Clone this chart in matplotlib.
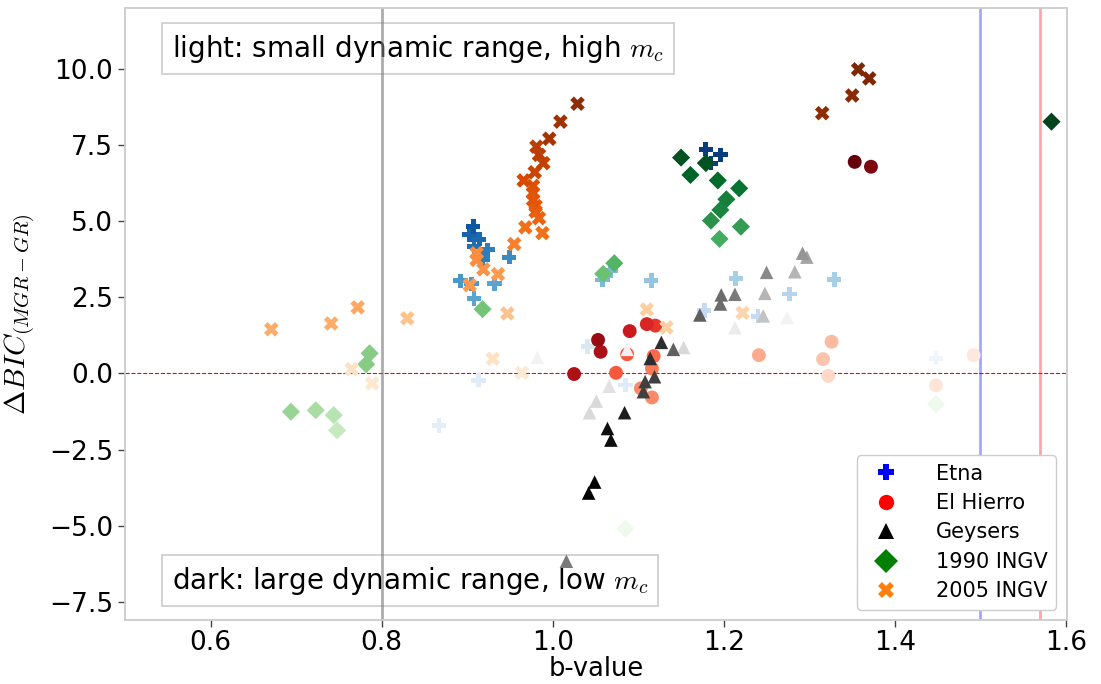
import matplotlib
matplotlib.use("Agg")
import matplotlib.pyplot as plt
from matplotlib.lines import Line2D
import numpy as np

plt.rcParams["mathtext.fontset"] = "cm"
plt.rcParams["font.family"] = ["DejaVu Sans"]

# b-value, Delta BIC and dynamic-range shade (0 = small range, 1 = large range)
etna_b = [0.907, 0.903, 0.914, 0.908, 0.924, 0.918, 0.949, 0.892, 0.905, 0.932, 0.908,
          1.179, 1.196, 1.185, 1.058, 1.068, 1.115, 1.214, 1.329, 1.277, 1.177, 1.240,
          1.041, 1.085, 0.913, 0.867, 1.448]
etna_bic = [4.82, 4.55, 4.41, 4.16, 4.06, 3.75, 3.82, 3.04, 2.94, 2.94, 2.47,
            7.37, 7.18, 6.91, 3.07, 3.38, 3.05, 3.12, 3.09, 2.61, 2.06, 1.88,
            0.88, -0.38, -0.22, -1.72, 0.50]
etna_shade = [0.85, 0.80, 0.78, 0.75, 0.70, 0.70, 0.65, 0.60, 0.60, 0.55, 0.55,
              0.95, 0.95, 0.95, 0.45, 0.45, 0.40, 0.35, 0.35, 0.30, 0.25, 0.25,
              0.15, 0.12, 0.12, 0.10, 0.05]

hierro_b = [1.025, 1.053, 1.056, 1.090, 1.110, 1.120, 1.074, 1.087, 1.118, 1.116,
            1.103, 1.116, 1.241, 1.326, 1.316, 1.322, 1.353, 1.372, 1.492, 1.448]
hierro_bic = [-0.02, 1.10, 0.71, 1.39, 1.62, 1.57, 0.02, 0.63, 0.57, 0.16,
              -0.49, -0.79, 0.60, 1.04, 0.47, -0.08, 6.95, 6.79, 0.60, -0.39]
hierro_shade = [0.85, 0.90, 0.85, 0.75, 0.70, 0.65, 0.55, 0.55, 0.50, 0.45,
                0.40, 0.40, 0.30, 0.25, 0.22, 0.15, 1.00, 0.95, 0.08, 0.10]

geysers_b = [1.064, 1.068, 1.049, 1.042, 1.084, 1.127, 1.114, 1.119, 1.108, 1.106,
             1.141, 1.016, 1.172, 1.197, 1.213, 1.196, 1.250, 1.292, 1.297, 1.283,
             1.248, 1.246, 1.153, 1.051, 1.043, 1.066, 1.213, 1.087, 1.274, 0.982]
geysers_bic = [-1.81, -2.19, -3.57, -3.93, -1.29, 1.02, 0.49, -0.11, -0.27, -0.60,
               0.79, -6.17, 1.92, 2.58, 2.60, 2.28, 3.32, 3.95, 3.82, 3.34,
               2.63, 1.89, 0.85, -0.91, -1.29, -0.42, 1.50, 0.79, 1.84, 0.53]
geysers_shade = [0.95, 0.95, 1.00, 1.00, 0.90, 0.85, 0.85, 0.80, 0.80, 0.80,
                 0.70, 0.60, 0.70, 0.65, 0.60, 0.65, 0.55, 0.50, 0.45, 0.40,
                 0.40, 0.35, 0.25, 0.25, 0.25, 0.20, 0.15, 0.12, 0.10, 0.10]

ingv1990_b = [1.583, 1.150, 1.179, 1.161, 1.193, 1.218, 1.203, 1.196, 1.185, 1.220,
              1.195, 1.072, 1.059, 0.918, 0.786, 0.782, 0.694, 0.723, 0.744, 0.748,
              1.085, 1.448]
ingv1990_bic = [8.27, 7.09, 6.91, 6.52, 6.34, 6.08, 5.72, 5.37, 5.02, 4.82,
                4.42, 3.62, 3.27, 2.11, 0.66, 0.30, -1.26, -1.21, -1.37, -1.87,
                -5.10, -1.01]
ingv1990_shade = [1.00, 0.95, 0.95, 0.90, 0.88, 0.85, 0.80, 0.78, 0.72, 0.68,
                  0.62, 0.58, 0.52, 0.50, 0.45, 0.45, 0.40, 0.35, 0.30, 0.25,
                  0.05, 0.05]

ingv2005_b = [1.370, 1.357, 1.350, 1.315, 1.029, 1.009, 0.996, 0.981, 0.984, 0.989,
              0.979, 0.966, 0.977, 0.977, 0.977, 0.980, 0.980, 0.984, 0.968, 0.988,
              0.955, 0.911, 0.911, 0.919, 0.936, 0.903, 0.947, 0.772, 0.741, 0.671,
              0.830, 1.110, 1.133, 1.222, 0.930, 0.765, 0.789, 0.964]
ingv2005_bic = [9.69, 9.99, 9.13, 8.55, 8.86, 8.27, 7.71, 7.45, 7.18, 6.91,
                6.61, 6.34, 6.16, 5.92, 5.70, 5.50, 5.32, 5.10, 4.80, 4.61,
                4.25, 3.95, 3.73, 3.42, 3.26, 2.90, 1.97, 2.17, 1.64, 1.45,
                1.81, 2.10, 1.51, 1.99, 0.48, 0.14, -0.33, 0.02]
ingv2005_shade = [1.00, 1.00, 0.97, 0.95, 0.95, 0.90, 0.88, 0.82, 0.82, 0.80,
                  0.78, 0.75, 0.72, 0.70, 0.70, 0.68, 0.66, 0.65, 0.60, 0.60,
                  0.55, 0.50, 0.50, 0.48, 0.45, 0.45, 0.30, 0.40, 0.38, 0.38,
                  0.30, 0.25, 0.25, 0.22, 0.15, 0.15, 0.12, 0.10]

series = [
    ("Etna", etna_b, etna_bic, etna_shade, "Blues", "P", "blue"),
    ("El Hierro", hierro_b, hierro_bic, hierro_shade, "Reds", "o", "red"),
    ("Geysers", geysers_b, geysers_bic, geysers_shade, "Greys", "^", "black"),
    ("1990 INGV", ingv1990_b, ingv1990_bic, ingv1990_shade, "Greens", "D", "green"),
    ("2005 INGV", ingv2005_b, ingv2005_bic, ingv2005_shade, "Oranges", "X", "#ff7f0e"),
]
marker_sizes = {"P": 110, "o": 100, "^": 95, "D": 85, "X": 110}

b_reference = 0.8
b_blue = 1.5
b_red = 1.57

fig = plt.figure(figsize=(11.01, 6.84), dpi=100)
ax = fig.add_axes([0.1135, 0.0936, 0.8555, 0.8945])

for name, bx, by, shade, cmap, mk, col in series:
    colors = plt.get_cmap(cmap)(np.asarray(shade))
    order = np.argsort(shade)
    ax.scatter(np.asarray(bx)[order], np.asarray(by)[order], c=colors[order],
               marker=mk, s=marker_sizes[mk], linewidths=0, zorder=3)

ax.axvline(b_reference, color="gray", alpha=0.65, lw=2, zorder=2)
ax.axvline(b_blue, color="blue", alpha=0.35, lw=2, zorder=2)
ax.axvline(b_red, color="red", alpha=0.35, lw=2, zorder=2)
ax.axhline(0, color="red", lw=0.8, ls="--", zorder=1)

ax.set_xlim(0.5, 1.601)
ax.set_ylim(-8.1, 12.0)
ax.set_xticks([0.6, 0.8, 1.0, 1.2, 1.4, 1.6])
ax.set_yticks([-7.5, -5.0, -2.5, 0.0, 2.5, 5.0, 7.5, 10.0])
ax.tick_params(labelsize=19, length=5, width=1, color="#444444")
ax.tick_params(axis="x", pad=2.5)
for sp in ax.spines.values():
    sp.set_color("#cccccc")
    sp.set_linewidth(1.3)
ax.set_xlabel("b-value", fontsize=18.5, labelpad=0)
ax.set_ylabel(r"$\Delta BIC_{(MGR-GR)}$", fontsize=21, labelpad=8)

box = dict(boxstyle="square,pad=0.35", facecolor="white", edgecolor="#cccccc", lw=1.2)
ax.text(0.050, 0.934, r"light: small dynamic range, high $m_c$", transform=ax.transAxes,
        fontsize=20, va="center", ha="left", bbox=box, zorder=1)
ax.text(0.050, 0.0645, r"dark: large dynamic range, low $m_c$", transform=ax.transAxes,
        fontsize=20, va="center", ha="left", bbox=box, zorder=1)

handles = [Line2D([], [], ls="none", marker=mk, color=col, markersize=11 if mk != "D" else 12,
                  markeredgewidth=0)
           for name, bx, by, shade, cmap, mk, col in series]
labels = [s[0] for s in series]
ax.legend(handles, labels, loc="lower right", fontsize=15, handletextpad=1.4,
          borderpad=0.4, labelspacing=0.45, framealpha=1, edgecolor="#cccccc")

fig.savefig("out.png", dpi=100)
